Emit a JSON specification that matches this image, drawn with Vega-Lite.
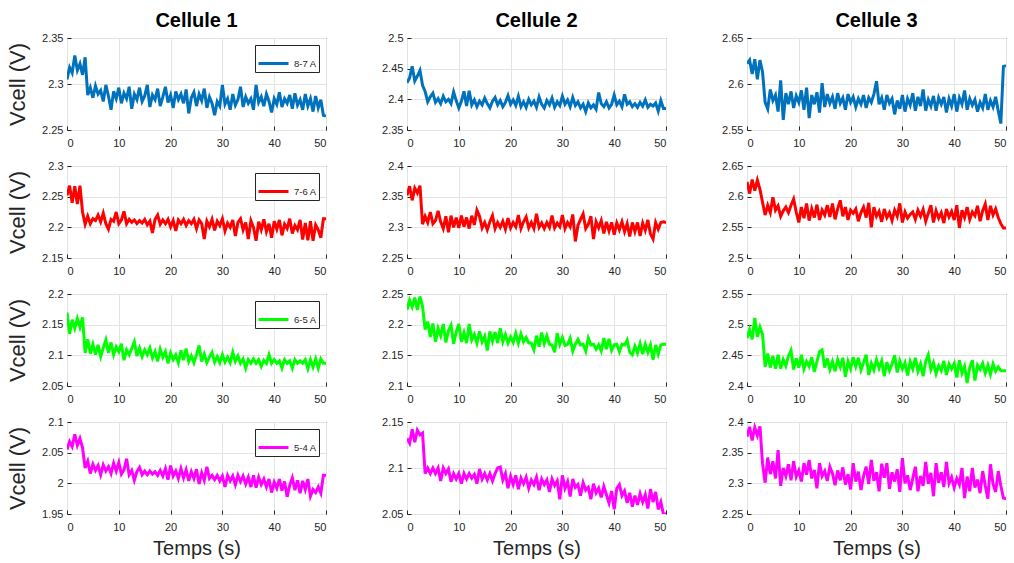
{
"$schema": "https://vega.github.io/schema/vega-lite/v6.json",
"background": "white",
"padding": {"left": 6, "top": 10, "right": 5, "bottom": 3},
"config": {
 "font": "Liberation Sans",
 "view": {"stroke": "#262626", "strokeWidth": 1},
 "axis": {"labelFontSize": 11, "labelColor": "#262626", "gridColor": "#e3e3e3", "domain": false, "tickColor": "#262626", "tickSize": -4, "labelPadding": 8, "titleFontWeight": "normal", "titleColor": "#262626", "titleFontSize": 20},
 "axisX": {"labelPadding": 11, "titlePadding": 6},
 "axisY": {"titlePadding": 12, "titleFontSize": 22},
 "title": {"fontSize": 20, "fontWeight": "bold", "color": "black", "offset": 1},
 "legend": {"orient": "top-right", "symbolType": "stroke", "symbolStrokeWidth": 3, "symbolSize": 900, "labelFontSize": 9.5, "labelColor": "#262626", "strokeColor": "#262626", "fillColor": "white", "padding": 2, "offset": 7}
},
"datasets": {
"b1": [{"t":0,"v":2.305},{"t":0.5,"v":2.318},{"t":1,"v":2.312},{"t":1.5,"v":2.331},{"t":2,"v":2.315},{"t":2.5,"v":2.322},{"t":3,"v":2.310},{"t":3.5,"v":2.329},{"t":4,"v":2.288},{"t":4.5,"v":2.296},{"t":5,"v":2.285},{"t":5.5,"v":2.298},{"t":6,"v":2.289},{"t":6.5,"v":2.293},{"t":7,"v":2.281},{"t":7.5,"v":2.299},{"t":8,"v":2.287},{"t":8.5,"v":2.272},{"t":9,"v":2.292},{"t":9.5,"v":2.284},{"t":10,"v":2.296},{"t":10.5,"v":2.279},{"t":11,"v":2.290},{"t":11.5,"v":2.284},{"t":12,"v":2.297},{"t":12.5,"v":2.273},{"t":13,"v":2.289},{"t":13.5,"v":2.283},{"t":14,"v":2.296},{"t":14.5,"v":2.281},{"t":15,"v":2.287},{"t":15.5,"v":2.299},{"t":16,"v":2.275},{"t":16.5,"v":2.288},{"t":17,"v":2.283},{"t":17.5,"v":2.295},{"t":18,"v":2.276},{"t":18.5,"v":2.286},{"t":19,"v":2.297},{"t":19.5,"v":2.280},{"t":20,"v":2.288},{"t":20.5,"v":2.274},{"t":21,"v":2.292},{"t":21.5,"v":2.283},{"t":22,"v":2.289},{"t":22.5,"v":2.279},{"t":23,"v":2.294},{"t":23.5,"v":2.268},{"t":24,"v":2.285},{"t":24.5,"v":2.291},{"t":25,"v":2.276},{"t":25.5,"v":2.289},{"t":26,"v":2.282},{"t":26.5,"v":2.295},{"t":27,"v":2.274},{"t":27.5,"v":2.286},{"t":28,"v":2.279},{"t":28.5,"v":2.266},{"t":29,"v":2.281},{"t":29.5,"v":2.276},{"t":30,"v":2.299},{"t":30.5,"v":2.278},{"t":31,"v":2.284},{"t":31.5,"v":2.272},{"t":32,"v":2.289},{"t":32.5,"v":2.277},{"t":33,"v":2.283},{"t":33.5,"v":2.297},{"t":34,"v":2.275},{"t":34.5,"v":2.286},{"t":35,"v":2.279},{"t":35.5,"v":2.284},{"t":36,"v":2.272},{"t":36.5,"v":2.299},{"t":37,"v":2.280},{"t":37.5,"v":2.286},{"t":38,"v":2.276},{"t":38.5,"v":2.289},{"t":39,"v":2.281},{"t":39.5,"v":2.269},{"t":40,"v":2.284},{"t":40.5,"v":2.278},{"t":41,"v":2.291},{"t":41.5,"v":2.275},{"t":42,"v":2.284},{"t":42.5,"v":2.279},{"t":43,"v":2.288},{"t":43.5,"v":2.273},{"t":44,"v":2.290},{"t":44.5,"v":2.277},{"t":45,"v":2.283},{"t":45.5,"v":2.272},{"t":46,"v":2.289},{"t":46.5,"v":2.276},{"t":47,"v":2.284},{"t":47.5,"v":2.270},{"t":48,"v":2.287},{"t":48.5,"v":2.274},{"t":49,"v":2.283},{"t":49.5,"v":2.266},{"t":50,"v":2.265}],
"b2": [{"t":0,"v":2.427},{"t":0.5,"v":2.435},{"t":1,"v":2.454},{"t":1.5,"v":2.430},{"t":2,"v":2.438},{"t":2.5,"v":2.447},{"t":3,"v":2.423},{"t":3.5,"v":2.413},{"t":4,"v":2.396},{"t":4.5,"v":2.404},{"t":5,"v":2.410},{"t":5.5,"v":2.395},{"t":6,"v":2.401},{"t":6.5,"v":2.393},{"t":7,"v":2.405},{"t":7.5,"v":2.396},{"t":8,"v":2.400},{"t":8.5,"v":2.393},{"t":9,"v":2.412},{"t":9.5,"v":2.398},{"t":10,"v":2.386},{"t":10.5,"v":2.397},{"t":11,"v":2.413},{"t":11.5,"v":2.389},{"t":12,"v":2.414},{"t":12.5,"v":2.391},{"t":13,"v":2.399},{"t":13.5,"v":2.388},{"t":14,"v":2.397},{"t":14.5,"v":2.391},{"t":15,"v":2.402},{"t":15.5,"v":2.393},{"t":16,"v":2.386},{"t":16.5,"v":2.397},{"t":17,"v":2.403},{"t":17.5,"v":2.391},{"t":18,"v":2.398},{"t":18.5,"v":2.388},{"t":19,"v":2.395},{"t":19.5,"v":2.406},{"t":20,"v":2.392},{"t":20.5,"v":2.399},{"t":21,"v":2.390},{"t":21.5,"v":2.405},{"t":22,"v":2.388},{"t":22.5,"v":2.396},{"t":23,"v":2.387},{"t":23.5,"v":2.400},{"t":24,"v":2.391},{"t":24.5,"v":2.397},{"t":25,"v":2.387},{"t":25.5,"v":2.404},{"t":26,"v":2.392},{"t":26.5,"v":2.386},{"t":27,"v":2.398},{"t":27.5,"v":2.391},{"t":28,"v":2.402},{"t":28.5,"v":2.387},{"t":29,"v":2.396},{"t":29.5,"v":2.390},{"t":30,"v":2.405},{"t":30.5,"v":2.392},{"t":31,"v":2.399},{"t":31.5,"v":2.388},{"t":32,"v":2.403},{"t":32.5,"v":2.390},{"t":33,"v":2.396},{"t":33.5,"v":2.386},{"t":34,"v":2.392},{"t":34.5,"v":2.380},{"t":35,"v":2.394},{"t":35.5,"v":2.386},{"t":36,"v":2.391},{"t":36.5,"v":2.384},{"t":37,"v":2.411},{"t":37.5,"v":2.393},{"t":38,"v":2.388},{"t":38.5,"v":2.396},{"t":39,"v":2.386},{"t":39.5,"v":2.392},{"t":40,"v":2.407},{"t":40.5,"v":2.391},{"t":41,"v":2.397},{"t":41.5,"v":2.388},{"t":42,"v":2.408},{"t":42.5,"v":2.392},{"t":43,"v":2.396},{"t":43.5,"v":2.388},{"t":44,"v":2.393},{"t":44.5,"v":2.387},{"t":45,"v":2.395},{"t":45.5,"v":2.389},{"t":46,"v":2.399},{"t":46.5,"v":2.387},{"t":47,"v":2.392},{"t":47.5,"v":2.389},{"t":48,"v":2.394},{"t":48.5,"v":2.381},{"t":49,"v":2.398},{"t":49.5,"v":2.385},{"t":50,"v":2.385}],
"b3": [{"t":0,"v":2.622},{"t":0.5,"v":2.626},{"t":1,"v":2.611},{"t":1.5,"v":2.627},{"t":2,"v":2.605},{"t":2.5,"v":2.626},{"t":3,"v":2.613},{"t":3.5,"v":2.580},{"t":4,"v":2.573},{"t":4.5,"v":2.594},{"t":5,"v":2.582},{"t":5.5,"v":2.588},{"t":6,"v":2.570},{"t":6.5,"v":2.604},{"t":7,"v":2.561},{"t":7.5,"v":2.590},{"t":8,"v":2.578},{"t":8.5,"v":2.592},{"t":9,"v":2.574},{"t":9.5,"v":2.587},{"t":10,"v":2.580},{"t":10.5,"v":2.593},{"t":11,"v":2.572},{"t":11.5,"v":2.596},{"t":12,"v":2.563},{"t":12.5,"v":2.588},{"t":13,"v":2.578},{"t":13.5,"v":2.591},{"t":14,"v":2.569},{"t":14.5,"v":2.601},{"t":15,"v":2.575},{"t":15.5,"v":2.589},{"t":16,"v":2.579},{"t":16.5,"v":2.586},{"t":17,"v":2.573},{"t":17.5,"v":2.590},{"t":18,"v":2.579},{"t":18.5,"v":2.585},{"t":19,"v":2.572},{"t":19.5,"v":2.589},{"t":20,"v":2.580},{"t":20.5,"v":2.586},{"t":21,"v":2.575},{"t":21.5,"v":2.584},{"t":22,"v":2.578},{"t":22.5,"v":2.588},{"t":23,"v":2.574},{"t":23.5,"v":2.585},{"t":24,"v":2.580},{"t":24.5,"v":2.589},{"t":25,"v":2.603},{"t":25.5,"v":2.578},{"t":26,"v":2.585},{"t":26.5,"v":2.572},{"t":27,"v":2.588},{"t":27.5,"v":2.579},{"t":28,"v":2.584},{"t":28.5,"v":2.567},{"t":29,"v":2.582},{"t":29.5,"v":2.573},{"t":30,"v":2.588},{"t":30.5,"v":2.570},{"t":31,"v":2.584},{"t":31.5,"v":2.577},{"t":32,"v":2.590},{"t":32.5,"v":2.571},{"t":33,"v":2.586},{"t":33.5,"v":2.576},{"t":34,"v":2.594},{"t":34.5,"v":2.571},{"t":35,"v":2.583},{"t":35.5,"v":2.576},{"t":36,"v":2.587},{"t":36.5,"v":2.571},{"t":37,"v":2.585},{"t":37.5,"v":2.578},{"t":38,"v":2.586},{"t":38.5,"v":2.569},{"t":39,"v":2.584},{"t":39.5,"v":2.576},{"t":40,"v":2.589},{"t":40.5,"v":2.570},{"t":41,"v":2.585},{"t":41.5,"v":2.578},{"t":42,"v":2.593},{"t":42.5,"v":2.572},{"t":43,"v":2.584},{"t":43.5,"v":2.577},{"t":44,"v":2.583},{"t":44.5,"v":2.570},{"t":45,"v":2.580},{"t":45.5,"v":2.574},{"t":46,"v":2.589},{"t":46.5,"v":2.572},{"t":47,"v":2.582},{"t":47.5,"v":2.575},{"t":48,"v":2.586},{"t":48.5,"v":2.571},{"t":49,"v":2.557},{"t":49.5,"v":2.619},{"t":50,"v":2.620}],
"r1": [{"t":0,"v":2.252},{"t":0.5,"v":2.268},{"t":1,"v":2.240},{"t":1.5,"v":2.267},{"t":2,"v":2.238},{"t":2.5,"v":2.268},{"t":3,"v":2.225},{"t":3.5,"v":2.205},{"t":4,"v":2.218},{"t":4.5,"v":2.206},{"t":5,"v":2.214},{"t":5.5,"v":2.211},{"t":6,"v":2.220},{"t":6.5,"v":2.209},{"t":7,"v":2.223},{"t":7.5,"v":2.206},{"t":8,"v":2.197},{"t":8.5,"v":2.213},{"t":9,"v":2.210},{"t":9.5,"v":2.225},{"t":10,"v":2.206},{"t":10.5,"v":2.212},{"t":11,"v":2.226},{"t":11.5,"v":2.206},{"t":12,"v":2.213},{"t":12.5,"v":2.208},{"t":13,"v":2.212},{"t":13.5,"v":2.206},{"t":14,"v":2.211},{"t":14.5,"v":2.207},{"t":15,"v":2.213},{"t":15.5,"v":2.204},{"t":16,"v":2.210},{"t":16.5,"v":2.191},{"t":17,"v":2.213},{"t":17.5,"v":2.220},{"t":18,"v":2.205},{"t":18.5,"v":2.212},{"t":19,"v":2.206},{"t":19.5,"v":2.213},{"t":20,"v":2.201},{"t":20.5,"v":2.211},{"t":21,"v":2.194},{"t":21.5,"v":2.212},{"t":22,"v":2.206},{"t":22.5,"v":2.213},{"t":23,"v":2.203},{"t":23.5,"v":2.211},{"t":24,"v":2.206},{"t":24.5,"v":2.213},{"t":25,"v":2.198},{"t":25.5,"v":2.212},{"t":26,"v":2.206},{"t":26.5,"v":2.181},{"t":27,"v":2.210},{"t":27.5,"v":2.201},{"t":28,"v":2.213},{"t":28.5,"v":2.195},{"t":29,"v":2.210},{"t":29.5,"v":2.203},{"t":30,"v":2.214},{"t":30.5,"v":2.194},{"t":31,"v":2.207},{"t":31.5,"v":2.200},{"t":32,"v":2.212},{"t":32.5,"v":2.186},{"t":33,"v":2.208},{"t":33.5,"v":2.214},{"t":34,"v":2.196},{"t":34.5,"v":2.208},{"t":35,"v":2.181},{"t":35.5,"v":2.211},{"t":36,"v":2.200},{"t":36.5,"v":2.178},{"t":37,"v":2.209},{"t":37.5,"v":2.196},{"t":38,"v":2.213},{"t":38.5,"v":2.193},{"t":39,"v":2.206},{"t":39.5,"v":2.183},{"t":40,"v":2.210},{"t":40.5,"v":2.197},{"t":41,"v":2.212},{"t":41.5,"v":2.187},{"t":42,"v":2.205},{"t":42.5,"v":2.198},{"t":43,"v":2.214},{"t":43.5,"v":2.190},{"t":44,"v":2.203},{"t":44.5,"v":2.196},{"t":45,"v":2.212},{"t":45.5,"v":2.180},{"t":46,"v":2.207},{"t":46.5,"v":2.179},{"t":47,"v":2.210},{"t":47.5,"v":2.178},{"t":48,"v":2.204},{"t":48.5,"v":2.196},{"t":49,"v":2.183},{"t":49.5,"v":2.214},{"t":50,"v":2.214}],
"r2": [{"t":0,"v":2.352},{"t":0.5,"v":2.367},{"t":1,"v":2.344},{"t":1.5,"v":2.364},{"t":2,"v":2.356},{"t":2.5,"v":2.368},{"t":3,"v":2.305},{"t":3.5,"v":2.318},{"t":4,"v":2.308},{"t":4.5,"v":2.325},{"t":5,"v":2.306},{"t":5.5,"v":2.311},{"t":6,"v":2.327},{"t":6.5,"v":2.309},{"t":7,"v":2.298},{"t":7.5,"v":2.318},{"t":8,"v":2.292},{"t":8.5,"v":2.319},{"t":9,"v":2.300},{"t":9.5,"v":2.316},{"t":10,"v":2.299},{"t":10.5,"v":2.319},{"t":11,"v":2.301},{"t":11.5,"v":2.316},{"t":12,"v":2.298},{"t":12.5,"v":2.319},{"t":13,"v":2.304},{"t":13.5,"v":2.328},{"t":14,"v":2.318},{"t":14.5,"v":2.299},{"t":15,"v":2.308},{"t":15.5,"v":2.296},{"t":16,"v":2.309},{"t":16.5,"v":2.319},{"t":17,"v":2.298},{"t":17.5,"v":2.308},{"t":18,"v":2.300},{"t":18.5,"v":2.310},{"t":19,"v":2.297},{"t":19.5,"v":2.315},{"t":20,"v":2.299},{"t":20.5,"v":2.308},{"t":21,"v":2.301},{"t":21.5,"v":2.320},{"t":22,"v":2.298},{"t":22.5,"v":2.309},{"t":23,"v":2.317},{"t":23.5,"v":2.299},{"t":24,"v":2.308},{"t":24.5,"v":2.298},{"t":25,"v":2.322},{"t":25.5,"v":2.300},{"t":26,"v":2.307},{"t":26.5,"v":2.298},{"t":27,"v":2.308},{"t":27.5,"v":2.300},{"t":28,"v":2.319},{"t":28.5,"v":2.299},{"t":29,"v":2.307},{"t":29.5,"v":2.301},{"t":30,"v":2.320},{"t":30.5,"v":2.298},{"t":31,"v":2.308},{"t":31.5,"v":2.301},{"t":32,"v":2.321},{"t":32.5,"v":2.277},{"t":33,"v":2.303},{"t":33.5,"v":2.313},{"t":34,"v":2.322},{"t":34.5,"v":2.298},{"t":35,"v":2.305},{"t":35.5,"v":2.318},{"t":36,"v":2.281},{"t":36.5,"v":2.309},{"t":37,"v":2.299},{"t":37.5,"v":2.311},{"t":38,"v":2.290},{"t":38.5,"v":2.309},{"t":39,"v":2.294},{"t":39.5,"v":2.308},{"t":40,"v":2.288},{"t":40.5,"v":2.307},{"t":41,"v":2.296},{"t":41.5,"v":2.309},{"t":42,"v":2.293},{"t":42.5,"v":2.306},{"t":43,"v":2.285},{"t":43.5,"v":2.308},{"t":44,"v":2.293},{"t":44.5,"v":2.308},{"t":45,"v":2.286},{"t":45.5,"v":2.307},{"t":46,"v":2.295},{"t":46.5,"v":2.312},{"t":47,"v":2.289},{"t":47.5,"v":2.281},{"t":48,"v":2.308},{"t":48.5,"v":2.297},{"t":49,"v":2.308},{"t":49.5,"v":2.309},{"t":50,"v":2.308}],
"r3": [{"t":0,"v":2.624},{"t":0.5,"v":2.605},{"t":1,"v":2.628},{"t":1.5,"v":2.610},{"t":2,"v":2.627},{"t":2.5,"v":2.612},{"t":3,"v":2.591},{"t":3.5,"v":2.570},{"t":4,"v":2.586},{"t":4.5,"v":2.574},{"t":5,"v":2.599},{"t":5.5,"v":2.578},{"t":6,"v":2.585},{"t":6.5,"v":2.568},{"t":7,"v":2.577},{"t":7.5,"v":2.583},{"t":8,"v":2.574},{"t":8.5,"v":2.586},{"t":9,"v":2.596},{"t":9.5,"v":2.575},{"t":10,"v":2.558},{"t":10.5,"v":2.583},{"t":11,"v":2.565},{"t":11.5,"v":2.589},{"t":12,"v":2.561},{"t":12.5,"v":2.580},{"t":13,"v":2.566},{"t":13.5,"v":2.587},{"t":14,"v":2.562},{"t":14.5,"v":2.578},{"t":15,"v":2.570},{"t":15.5,"v":2.586},{"t":16,"v":2.567},{"t":16.5,"v":2.589},{"t":17,"v":2.563},{"t":17.5,"v":2.580},{"t":18,"v":2.594},{"t":18.5,"v":2.568},{"t":19,"v":2.583},{"t":19.5,"v":2.562},{"t":20,"v":2.578},{"t":20.5,"v":2.573},{"t":21,"v":2.580},{"t":21.5,"v":2.560},{"t":22,"v":2.574},{"t":22.5,"v":2.583},{"t":23,"v":2.566},{"t":23.5,"v":2.590},{"t":24,"v":2.550},{"t":24.5,"v":2.583},{"t":25,"v":2.568},{"t":25.5,"v":2.576},{"t":26,"v":2.559},{"t":26.5,"v":2.580},{"t":27,"v":2.566},{"t":27.5,"v":2.574},{"t":28,"v":2.561},{"t":28.5,"v":2.578},{"t":29,"v":2.568},{"t":29.5,"v":2.589},{"t":30,"v":2.558},{"t":30.5,"v":2.575},{"t":31,"v":2.565},{"t":31.5,"v":2.571},{"t":32,"v":2.575},{"t":32.5,"v":2.563},{"t":33,"v":2.578},{"t":33.5,"v":2.568},{"t":34,"v":2.579},{"t":34.5,"v":2.560},{"t":35,"v":2.573},{"t":35.5,"v":2.586},{"t":36,"v":2.558},{"t":36.5,"v":2.577},{"t":37,"v":2.565},{"t":37.5,"v":2.574},{"t":38,"v":2.557},{"t":38.5,"v":2.580},{"t":39,"v":2.567},{"t":39.5,"v":2.576},{"t":40,"v":2.562},{"t":40.5,"v":2.586},{"t":41,"v":2.549},{"t":41.5,"v":2.578},{"t":42,"v":2.566},{"t":42.5,"v":2.583},{"t":43,"v":2.563},{"t":43.5,"v":2.575},{"t":44,"v":2.569},{"t":44.5,"v":2.585},{"t":45,"v":2.560},{"t":45.5,"v":2.577},{"t":46,"v":2.588},{"t":46.5,"v":2.562},{"t":47,"v":2.585},{"t":47.5,"v":2.570},{"t":48,"v":2.580},{"t":48.5,"v":2.566},{"t":49,"v":2.556},{"t":49.5,"v":2.549},{"t":50,"v":2.549}],
"g1": [{"t":0,"v":2.170},{"t":0.5,"v":2.135},{"t":1,"v":2.158},{"t":1.5,"v":2.144},{"t":2,"v":2.160},{"t":2.5,"v":2.146},{"t":3,"v":2.162},{"t":3.5,"v":2.104},{"t":4,"v":2.126},{"t":4.5,"v":2.103},{"t":5,"v":2.118},{"t":5.5,"v":2.101},{"t":6,"v":2.117},{"t":6.5,"v":2.098},{"t":7,"v":2.112},{"t":7.5,"v":2.125},{"t":8,"v":2.104},{"t":8.5,"v":2.121},{"t":9,"v":2.101},{"t":9.5,"v":2.114},{"t":10,"v":2.106},{"t":10.5,"v":2.119},{"t":11,"v":2.092},{"t":11.5,"v":2.109},{"t":12,"v":2.101},{"t":12.5,"v":2.111},{"t":13,"v":2.122},{"t":13.5,"v":2.099},{"t":14,"v":2.112},{"t":14.5,"v":2.098},{"t":15,"v":2.109},{"t":15.5,"v":2.101},{"t":16,"v":2.112},{"t":16.5,"v":2.096},{"t":17,"v":2.106},{"t":17.5,"v":2.090},{"t":18,"v":2.110},{"t":18.5,"v":2.097},{"t":19,"v":2.106},{"t":19.5,"v":2.087},{"t":20,"v":2.104},{"t":20.5,"v":2.093},{"t":21,"v":2.101},{"t":21.5,"v":2.088},{"t":22,"v":2.108},{"t":22.5,"v":2.092},{"t":23,"v":2.111},{"t":23.5,"v":2.090},{"t":24,"v":2.099},{"t":24.5,"v":2.088},{"t":25,"v":2.101},{"t":25.5,"v":2.116},{"t":26,"v":2.090},{"t":26.5,"v":2.102},{"t":27,"v":2.088},{"t":27.5,"v":2.097},{"t":28,"v":2.105},{"t":28.5,"v":2.089},{"t":29,"v":2.098},{"t":29.5,"v":2.088},{"t":30,"v":2.101},{"t":30.5,"v":2.089},{"t":31,"v":2.097},{"t":31.5,"v":2.088},{"t":32,"v":2.105},{"t":32.5,"v":2.090},{"t":33,"v":2.099},{"t":33.5,"v":2.087},{"t":34,"v":2.094},{"t":34.5,"v":2.079},{"t":35,"v":2.093},{"t":35.5,"v":2.087},{"t":36,"v":2.094},{"t":36.5,"v":2.087},{"t":37,"v":2.093},{"t":37.5,"v":2.082},{"t":38,"v":2.092},{"t":38.5,"v":2.087},{"t":39,"v":2.101},{"t":39.5,"v":2.087},{"t":40,"v":2.093},{"t":40.5,"v":2.087},{"t":41,"v":2.091},{"t":41.5,"v":2.079},{"t":42,"v":2.093},{"t":42.5,"v":2.087},{"t":43,"v":2.091},{"t":43.5,"v":2.079},{"t":44,"v":2.093},{"t":44.5,"v":2.087},{"t":45,"v":2.091},{"t":45.5,"v":2.087},{"t":46,"v":2.093},{"t":46.5,"v":2.078},{"t":47,"v":2.093},{"t":47.5,"v":2.081},{"t":48,"v":2.094},{"t":48.5,"v":2.079},{"t":49,"v":2.094},{"t":49.5,"v":2.087},{"t":50,"v":2.087}],
"g2": [{"t":0,"v":2.224},{"t":0.5,"v":2.240},{"t":1,"v":2.229},{"t":1.5,"v":2.244},{"t":2,"v":2.224},{"t":2.5,"v":2.246},{"t":3,"v":2.230},{"t":3.5,"v":2.192},{"t":4,"v":2.205},{"t":4.5,"v":2.180},{"t":5,"v":2.202},{"t":5.5,"v":2.172},{"t":6,"v":2.194},{"t":6.5,"v":2.182},{"t":7,"v":2.201},{"t":7.5,"v":2.171},{"t":8,"v":2.190},{"t":8.5,"v":2.199},{"t":9,"v":2.169},{"t":9.5,"v":2.188},{"t":10,"v":2.201},{"t":10.5,"v":2.172},{"t":11,"v":2.187},{"t":11.5,"v":2.170},{"t":12,"v":2.201},{"t":12.5,"v":2.175},{"t":13,"v":2.184},{"t":13.5,"v":2.170},{"t":14,"v":2.189},{"t":14.5,"v":2.172},{"t":15,"v":2.181},{"t":15.5,"v":2.158},{"t":16,"v":2.189},{"t":16.5,"v":2.173},{"t":17,"v":2.188},{"t":17.5,"v":2.170},{"t":18,"v":2.194},{"t":18.5,"v":2.172},{"t":19,"v":2.184},{"t":19.5,"v":2.170},{"t":20,"v":2.180},{"t":20.5,"v":2.171},{"t":21,"v":2.186},{"t":21.5,"v":2.170},{"t":22,"v":2.185},{"t":22.5,"v":2.172},{"t":23,"v":2.179},{"t":23.5,"v":2.170},{"t":24,"v":2.170},{"t":24.5,"v":2.159},{"t":25,"v":2.182},{"t":25.5,"v":2.164},{"t":26,"v":2.187},{"t":26.5,"v":2.169},{"t":27,"v":2.182},{"t":27.5,"v":2.168},{"t":28,"v":2.167},{"t":28.5,"v":2.155},{"t":29,"v":2.186},{"t":29.5,"v":2.168},{"t":30,"v":2.179},{"t":30.5,"v":2.166},{"t":31,"v":2.168},{"t":31.5,"v":2.178},{"t":32,"v":2.157},{"t":32.5,"v":2.168},{"t":33,"v":2.176},{"t":33.5,"v":2.167},{"t":34,"v":2.168},{"t":34.5,"v":2.157},{"t":35,"v":2.178},{"t":35.5,"v":2.167},{"t":36,"v":2.168},{"t":36.5,"v":2.160},{"t":37,"v":2.167},{"t":37.5,"v":2.157},{"t":38,"v":2.178},{"t":38.5,"v":2.160},{"t":39,"v":2.177},{"t":39.5,"v":2.158},{"t":40,"v":2.167},{"t":40.5,"v":2.168},{"t":41,"v":2.156},{"t":41.5,"v":2.168},{"t":42,"v":2.167},{"t":42.5,"v":2.175},{"t":43,"v":2.155},{"t":43.5,"v":2.151},{"t":44,"v":2.165},{"t":44.5,"v":2.154},{"t":45,"v":2.169},{"t":45.5,"v":2.152},{"t":46,"v":2.168},{"t":46.5,"v":2.155},{"t":47,"v":2.167},{"t":47.5,"v":2.143},{"t":48,"v":2.167},{"t":48.5,"v":2.152},{"t":49,"v":2.167},{"t":49.5,"v":2.168},{"t":50,"v":2.168}],
"g3": [{"t":0,"v":2.478},{"t":0.5,"v":2.492},{"t":1,"v":2.476},{"t":1.5,"v":2.511},{"t":2,"v":2.480},{"t":2.5,"v":2.496},{"t":3,"v":2.484},{"t":3.5,"v":2.431},{"t":4,"v":2.453},{"t":4.5,"v":2.430},{"t":5,"v":2.449},{"t":5.5,"v":2.428},{"t":6,"v":2.451},{"t":6.5,"v":2.428},{"t":7,"v":2.443},{"t":7.5,"v":2.433},{"t":8,"v":2.449},{"t":8.5,"v":2.458},{"t":9,"v":2.427},{"t":9.5,"v":2.445},{"t":10,"v":2.430},{"t":10.5,"v":2.451},{"t":11,"v":2.428},{"t":11.5,"v":2.440},{"t":12,"v":2.432},{"t":12.5,"v":2.447},{"t":13,"v":2.423},{"t":13.5,"v":2.440},{"t":14,"v":2.456},{"t":14.5,"v":2.459},{"t":15,"v":2.430},{"t":15.5,"v":2.445},{"t":16,"v":2.427},{"t":16.5,"v":2.440},{"t":17,"v":2.424},{"t":17.5,"v":2.443},{"t":18,"v":2.431},{"t":18.5,"v":2.446},{"t":19,"v":2.415},{"t":19.5,"v":2.440},{"t":20,"v":2.428},{"t":20.5,"v":2.447},{"t":21,"v":2.432},{"t":21.5,"v":2.446},{"t":22,"v":2.426},{"t":22.5,"v":2.438},{"t":23,"v":2.451},{"t":23.5,"v":2.418},{"t":24,"v":2.437},{"t":24.5,"v":2.426},{"t":25,"v":2.443},{"t":25.5,"v":2.429},{"t":26,"v":2.441},{"t":26.5,"v":2.416},{"t":27,"v":2.439},{"t":27.5,"v":2.425},{"t":28,"v":2.436},{"t":28.5,"v":2.450},{"t":29,"v":2.422},{"t":29.5,"v":2.441},{"t":30,"v":2.428},{"t":30.5,"v":2.438},{"t":31,"v":2.417},{"t":31.5,"v":2.440},{"t":32,"v":2.428},{"t":32.5,"v":2.446},{"t":33,"v":2.424},{"t":33.5,"v":2.436},{"t":34,"v":2.416},{"t":34.5,"v":2.440},{"t":35,"v":2.451},{"t":35.5,"v":2.427},{"t":36,"v":2.438},{"t":36.5,"v":2.420},{"t":37,"v":2.433},{"t":37.5,"v":2.425},{"t":38,"v":2.441},{"t":38.5,"v":2.418},{"t":39,"v":2.436},{"t":39.5,"v":2.428},{"t":40,"v":2.437},{"t":40.5,"v":2.414},{"t":41,"v":2.442},{"t":41.5,"v":2.421},{"t":42,"v":2.432},{"t":42.5,"v":2.405},{"t":43,"v":2.430},{"t":43.5,"v":2.442},{"t":44,"v":2.409},{"t":44.5,"v":2.434},{"t":45,"v":2.427},{"t":45.5,"v":2.437},{"t":46,"v":2.421},{"t":46.5,"v":2.434},{"t":47,"v":2.419},{"t":47.5,"v":2.436},{"t":48,"v":2.424},{"t":48.5,"v":2.431},{"t":49,"v":2.425},{"t":49.5,"v":2.425},{"t":50,"v":2.425}],
"m1": [{"t":0,"v":2.055},{"t":0.5,"v":2.068},{"t":1,"v":2.060},{"t":1.5,"v":2.080},{"t":2,"v":2.062},{"t":2.5,"v":2.073},{"t":3,"v":2.058},{"t":3.5,"v":2.025},{"t":4,"v":2.036},{"t":4.5,"v":2.016},{"t":5,"v":2.031},{"t":5.5,"v":2.021},{"t":6,"v":2.029},{"t":6.5,"v":2.014},{"t":7,"v":2.030},{"t":7.5,"v":2.020},{"t":8,"v":2.027},{"t":8.5,"v":2.016},{"t":9,"v":2.033},{"t":9.5,"v":2.020},{"t":10,"v":2.034},{"t":10.5,"v":2.015},{"t":11,"v":2.022},{"t":11.5,"v":2.040},{"t":12,"v":2.014},{"t":12.5,"v":2.021},{"t":13,"v":2.005},{"t":13.5,"v":2.019},{"t":14,"v":2.026},{"t":14.5,"v":2.014},{"t":15,"v":2.020},{"t":15.5,"v":2.014},{"t":16,"v":2.020},{"t":16.5,"v":2.015},{"t":17,"v":2.019},{"t":17.5,"v":2.013},{"t":18,"v":2.021},{"t":18.5,"v":2.012},{"t":19,"v":2.024},{"t":19.5,"v":2.006},{"t":20,"v":2.029},{"t":20.5,"v":2.012},{"t":21,"v":2.020},{"t":21.5,"v":2.008},{"t":22,"v":2.024},{"t":22.5,"v":2.009},{"t":23,"v":2.022},{"t":23.5,"v":2.004},{"t":24,"v":2.019},{"t":24.5,"v":2.008},{"t":25,"v":2.023},{"t":25.5,"v":1.999},{"t":26,"v":2.017},{"t":26.5,"v":2.005},{"t":27,"v":2.027},{"t":27.5,"v":2.008},{"t":28,"v":2.013},{"t":28.5,"v":2.006},{"t":29,"v":2.013},{"t":29.5,"v":2.004},{"t":30,"v":2.012},{"t":30.5,"v":1.994},{"t":31,"v":2.013},{"t":31.5,"v":2.004},{"t":32,"v":2.012},{"t":32.5,"v":1.998},{"t":33,"v":2.013},{"t":33.5,"v":2.003},{"t":34,"v":2.012},{"t":34.5,"v":1.999},{"t":35,"v":2.010},{"t":35.5,"v":1.994},{"t":36,"v":2.013},{"t":36.5,"v":1.993},{"t":37,"v":2.010},{"t":37.5,"v":1.998},{"t":38,"v":2.007},{"t":38.5,"v":1.994},{"t":39,"v":2.007},{"t":39.5,"v":1.985},{"t":40,"v":2.002},{"t":40.5,"v":1.992},{"t":41,"v":2.007},{"t":41.5,"v":1.988},{"t":42,"v":2.003},{"t":42.5,"v":1.978},{"t":43,"v":1.997},{"t":43.5,"v":2.009},{"t":44,"v":1.989},{"t":44.5,"v":2.005},{"t":45,"v":1.984},{"t":45.5,"v":2.004},{"t":46,"v":1.990},{"t":46.5,"v":2.007},{"t":47,"v":1.979},{"t":47.5,"v":1.990},{"t":48,"v":1.985},{"t":48.5,"v":1.994},{"t":49,"v":1.984},{"t":49.5,"v":2.013},{"t":50,"v":2.013}],
"m2": [{"t":0,"v":2.132},{"t":0.5,"v":2.127},{"t":1,"v":2.142},{"t":1.5,"v":2.128},{"t":2,"v":2.141},{"t":2.5,"v":2.136},{"t":3,"v":2.138},{"t":3.5,"v":2.094},{"t":4,"v":2.100},{"t":4.5,"v":2.094},{"t":5,"v":2.100},{"t":5.5,"v":2.094},{"t":6,"v":2.100},{"t":6.5,"v":2.086},{"t":7,"v":2.100},{"t":7.5,"v":2.094},{"t":8,"v":2.099},{"t":8.5,"v":2.085},{"t":9,"v":2.094},{"t":9.5,"v":2.088},{"t":10,"v":2.094},{"t":10.5,"v":2.083},{"t":11,"v":2.094},{"t":11.5,"v":2.088},{"t":12,"v":2.094},{"t":12.5,"v":2.089},{"t":13,"v":2.093},{"t":13.5,"v":2.083},{"t":14,"v":2.099},{"t":14.5,"v":2.088},{"t":15,"v":2.094},{"t":15.5,"v":2.087},{"t":16,"v":2.094},{"t":16.5,"v":2.086},{"t":17,"v":2.094},{"t":17.5,"v":2.100},{"t":18,"v":2.101},{"t":18.5,"v":2.087},{"t":19,"v":2.094},{"t":19.5,"v":2.078},{"t":20,"v":2.091},{"t":20.5,"v":2.082},{"t":21,"v":2.092},{"t":21.5,"v":2.077},{"t":22,"v":2.089},{"t":22.5,"v":2.083},{"t":23,"v":2.090},{"t":23.5,"v":2.078},{"t":24,"v":2.087},{"t":24.5,"v":2.082},{"t":25,"v":2.090},{"t":25.5,"v":2.076},{"t":26,"v":2.088},{"t":26.5,"v":2.082},{"t":27,"v":2.087},{"t":27.5,"v":2.074},{"t":28,"v":2.088},{"t":28.5,"v":2.081},{"t":29,"v":2.086},{"t":29.5,"v":2.066},{"t":30,"v":2.092},{"t":30.5,"v":2.078},{"t":31,"v":2.085},{"t":31.5,"v":2.069},{"t":32,"v":2.088},{"t":32.5,"v":2.079},{"t":33,"v":2.082},{"t":33.5,"v":2.070},{"t":34,"v":2.084},{"t":34.5,"v":2.076},{"t":35,"v":2.079},{"t":35.5,"v":2.066},{"t":36,"v":2.083},{"t":36.5,"v":2.073},{"t":37,"v":2.078},{"t":37.5,"v":2.068},{"t":38,"v":2.080},{"t":38.5,"v":2.071},{"t":39,"v":2.062},{"t":39.5,"v":2.075},{"t":40,"v":2.055},{"t":40.5,"v":2.078},{"t":41,"v":2.082},{"t":41.5,"v":2.070},{"t":42,"v":2.075},{"t":42.5,"v":2.062},{"t":43,"v":2.073},{"t":43.5,"v":2.058},{"t":44,"v":2.070},{"t":44.5,"v":2.060},{"t":45,"v":2.072},{"t":45.5,"v":2.063},{"t":46,"v":2.071},{"t":46.5,"v":2.056},{"t":47,"v":2.077},{"t":47.5,"v":2.063},{"t":48,"v":2.074},{"t":48.5,"v":2.055},{"t":49,"v":2.063},{"t":49.5,"v":2.050},{"t":50,"v":2.050}],
"m3": [{"t":0,"v":2.376},{"t":0.5,"v":2.392},{"t":1,"v":2.370},{"t":1.5,"v":2.391},{"t":2,"v":2.378},{"t":2.5,"v":2.393},{"t":3,"v":2.332},{"t":3.5,"v":2.301},{"t":4,"v":2.342},{"t":4.5,"v":2.315},{"t":5,"v":2.336},{"t":5.5,"v":2.308},{"t":6,"v":2.354},{"t":6.5,"v":2.296},{"t":7,"v":2.325},{"t":7.5,"v":2.312},{"t":8,"v":2.331},{"t":8.5,"v":2.305},{"t":9,"v":2.336},{"t":9.5,"v":2.311},{"t":10,"v":2.321},{"t":10.5,"v":2.303},{"t":11,"v":2.333},{"t":11.5,"v":2.314},{"t":12,"v":2.338},{"t":12.5,"v":2.308},{"t":13,"v":2.322},{"t":13.5,"v":2.292},{"t":14,"v":2.333},{"t":14.5,"v":2.312},{"t":15,"v":2.320},{"t":15.5,"v":2.304},{"t":16,"v":2.327},{"t":16.5,"v":2.316},{"t":17,"v":2.297},{"t":17.5,"v":2.321},{"t":18,"v":2.305},{"t":18.5,"v":2.326},{"t":19,"v":2.298},{"t":19.5,"v":2.315},{"t":20,"v":2.290},{"t":20.5,"v":2.333},{"t":21,"v":2.303},{"t":21.5,"v":2.319},{"t":22,"v":2.289},{"t":22.5,"v":2.312},{"t":23,"v":2.327},{"t":23.5,"v":2.299},{"t":24,"v":2.338},{"t":24.5,"v":2.304},{"t":25,"v":2.318},{"t":25.5,"v":2.287},{"t":26,"v":2.332},{"t":26.5,"v":2.309},{"t":27,"v":2.333},{"t":27.5,"v":2.291},{"t":28,"v":2.318},{"t":28.5,"v":2.303},{"t":29,"v":2.323},{"t":29.5,"v":2.286},{"t":30,"v":2.341},{"t":30.5,"v":2.300},{"t":31,"v":2.313},{"t":31.5,"v":2.289},{"t":32,"v":2.308},{"t":32.5,"v":2.327},{"t":33,"v":2.287},{"t":33.5,"v":2.312},{"t":34,"v":2.296},{"t":34.5,"v":2.335},{"t":35,"v":2.299},{"t":35.5,"v":2.317},{"t":36,"v":2.279},{"t":36.5,"v":2.333},{"t":37,"v":2.301},{"t":37.5,"v":2.318},{"t":38,"v":2.294},{"t":38.5,"v":2.335},{"t":39,"v":2.300},{"t":39.5,"v":2.310},{"t":40,"v":2.293},{"t":40.5,"v":2.308},{"t":41,"v":2.298},{"t":41.5,"v":2.325},{"t":42,"v":2.276},{"t":42.5,"v":2.311},{"t":43,"v":2.287},{"t":43.5,"v":2.325},{"t":44,"v":2.293},{"t":44.5,"v":2.306},{"t":45,"v":2.284},{"t":45.5,"v":2.320},{"t":46,"v":2.296},{"t":46.5,"v":2.275},{"t":47,"v":2.331},{"t":47.5,"v":2.299},{"t":48,"v":2.286},{"t":48.5,"v":2.320},{"t":49,"v":2.296},{"t":49.5,"v":2.276},{"t":50,"v":2.275}]
},
"columns": 3,
"bounds": "flush",
"spacing": {"row": 36, "column": 81},
"resolve": {"scale": {"color": "independent", "x": "independent", "y": "independent"}, "legend": {"color": "independent"}},
"concat": [
  {"width": 259, "height": 92, "data": {"name": "b1"}, "title": "Cellule 1",
   "mark": {"type": "line", "strokeWidth": 3, "clip": true},
   "encoding": {
    "x": {"field": "t", "type": "quantitative", "scale": {"domain": [0, 50], "nice": false}, "axis": {"values": [0,10,20,30,40,50], "title": null}},
    "y": {"field": "v", "type": "quantitative", "scale": {"domain": [2.25, 2.35], "zero": false, "nice": false}, "axis": {"values": [2.25,2.3,2.35], "format": "~g", "title": "Vcell (V)"}},
    "color": {"datum": "8-7 A", "scale": {"range": ["#0072BD"]}, "legend": {"title": null}}}},
  {"width": 259, "height": 92, "data": {"name": "b2"}, "title": "Cellule 2",
   "mark": {"type": "line", "strokeWidth": 3, "clip": true, "color": "#0072BD"},
   "encoding": {
    "x": {"field": "t", "type": "quantitative", "scale": {"domain": [0, 50], "nice": false}, "axis": {"values": [0,10,20,30,40,50], "title": null}},
    "y": {"field": "v", "type": "quantitative", "scale": {"domain": [2.35, 2.5], "zero": false, "nice": false}, "axis": {"values": [2.35,2.4,2.45,2.5], "format": "~g", "title": null}}}},
  {"width": 259, "height": 92, "data": {"name": "b3"}, "title": "Cellule 3",
   "mark": {"type": "line", "strokeWidth": 3, "clip": true, "color": "#0072BD"},
   "encoding": {
    "x": {"field": "t", "type": "quantitative", "scale": {"domain": [0, 50], "nice": false}, "axis": {"values": [0,10,20,30,40,50], "title": null}},
    "y": {"field": "v", "type": "quantitative", "scale": {"domain": [2.55, 2.65], "zero": false, "nice": false}, "axis": {"values": [2.55,2.6,2.65], "format": "~g", "title": null}}}},
  {"width": 259, "height": 92, "data": {"name": "r1"},
   "mark": {"type": "line", "strokeWidth": 3, "clip": true},
   "encoding": {
    "x": {"field": "t", "type": "quantitative", "scale": {"domain": [0, 50], "nice": false}, "axis": {"values": [0,10,20,30,40,50], "title": null}},
    "y": {"field": "v", "type": "quantitative", "scale": {"domain": [2.15, 2.3], "zero": false, "nice": false}, "axis": {"values": [2.15,2.2,2.25,2.3], "format": "~g", "title": "Vcell (V)"}},
    "color": {"datum": "7-6 A", "scale": {"range": ["#FF0000"]}, "legend": {"title": null}}}},
  {"width": 259, "height": 92, "data": {"name": "r2"},
   "mark": {"type": "line", "strokeWidth": 3, "clip": true, "color": "#FF0000"},
   "encoding": {
    "x": {"field": "t", "type": "quantitative", "scale": {"domain": [0, 50], "nice": false}, "axis": {"values": [0,10,20,30,40,50], "title": null}},
    "y": {"field": "v", "type": "quantitative", "scale": {"domain": [2.25, 2.4], "zero": false, "nice": false}, "axis": {"values": [2.25,2.3,2.35,2.4], "format": "~g", "title": null}}}},
  {"width": 259, "height": 92, "data": {"name": "r3"},
   "mark": {"type": "line", "strokeWidth": 3, "clip": true, "color": "#FF0000"},
   "encoding": {
    "x": {"field": "t", "type": "quantitative", "scale": {"domain": [0, 50], "nice": false}, "axis": {"values": [0,10,20,30,40,50], "title": null}},
    "y": {"field": "v", "type": "quantitative", "scale": {"domain": [2.5, 2.65], "zero": false, "nice": false}, "axis": {"values": [2.5,2.55,2.6,2.65], "format": "~g", "title": null}}}},
  {"width": 259, "height": 92, "data": {"name": "g1"},
   "mark": {"type": "line", "strokeWidth": 3, "clip": true},
   "encoding": {
    "x": {"field": "t", "type": "quantitative", "scale": {"domain": [0, 50], "nice": false}, "axis": {"values": [0,10,20,30,40,50], "title": null}},
    "y": {"field": "v", "type": "quantitative", "scale": {"domain": [2.05, 2.2], "zero": false, "nice": false}, "axis": {"values": [2.05,2.1,2.15,2.2], "format": "~g", "title": "Vcell (V)"}},
    "color": {"datum": "6-5 A", "scale": {"range": ["#00FF00"]}, "legend": {"title": null}}}},
  {"width": 259, "height": 92, "data": {"name": "g2"},
   "mark": {"type": "line", "strokeWidth": 3, "clip": true, "color": "#00FF00"},
   "encoding": {
    "x": {"field": "t", "type": "quantitative", "scale": {"domain": [0, 50], "nice": false}, "axis": {"values": [0,10,20,30,40,50], "title": null}},
    "y": {"field": "v", "type": "quantitative", "scale": {"domain": [2.1, 2.25], "zero": false, "nice": false}, "axis": {"values": [2.1,2.15,2.2,2.25], "format": "~g", "title": null}}}},
  {"width": 259, "height": 92, "data": {"name": "g3"},
   "mark": {"type": "line", "strokeWidth": 3, "clip": true, "color": "#00FF00"},
   "encoding": {
    "x": {"field": "t", "type": "quantitative", "scale": {"domain": [0, 50], "nice": false}, "axis": {"values": [0,10,20,30,40,50], "title": null}},
    "y": {"field": "v", "type": "quantitative", "scale": {"domain": [2.4, 2.55], "zero": false, "nice": false}, "axis": {"values": [2.4,2.45,2.5,2.55], "format": "~g", "title": null}}}},
  {"width": 259, "height": 92, "data": {"name": "m1"},
   "mark": {"type": "line", "strokeWidth": 3, "clip": true},
   "encoding": {
    "x": {"field": "t", "type": "quantitative", "scale": {"domain": [0, 50], "nice": false}, "axis": {"values": [0,10,20,30,40,50], "title": "Temps (s)"}},
    "y": {"field": "v", "type": "quantitative", "scale": {"domain": [1.95, 2.1], "zero": false, "nice": false}, "axis": {"values": [1.95,2,2.05,2.1], "format": "~g", "title": "Vcell (V)"}},
    "color": {"datum": "5-4 A", "scale": {"range": ["#FF00FF"]}, "legend": {"title": null}}}},
  {"width": 259, "height": 92, "data": {"name": "m2"},
   "mark": {"type": "line", "strokeWidth": 3, "clip": true, "color": "#FF00FF"},
   "encoding": {
    "x": {"field": "t", "type": "quantitative", "scale": {"domain": [0, 50], "nice": false}, "axis": {"values": [0,10,20,30,40,50], "title": "Temps (s)"}},
    "y": {"field": "v", "type": "quantitative", "scale": {"domain": [2.05, 2.15], "zero": false, "nice": false}, "axis": {"values": [2.05,2.1,2.15], "format": "~g", "title": null}}}},
  {"width": 259, "height": 92, "data": {"name": "m3"},
   "mark": {"type": "line", "strokeWidth": 3, "clip": true, "color": "#FF00FF"},
   "encoding": {
    "x": {"field": "t", "type": "quantitative", "scale": {"domain": [0, 50], "nice": false}, "axis": {"values": [0,10,20,30,40,50], "title": "Temps (s)"}},
    "y": {"field": "v", "type": "quantitative", "scale": {"domain": [2.25, 2.4], "zero": false, "nice": false}, "axis": {"values": [2.25,2.3,2.35,2.4], "format": "~g", "title": null}}}}
]
}
